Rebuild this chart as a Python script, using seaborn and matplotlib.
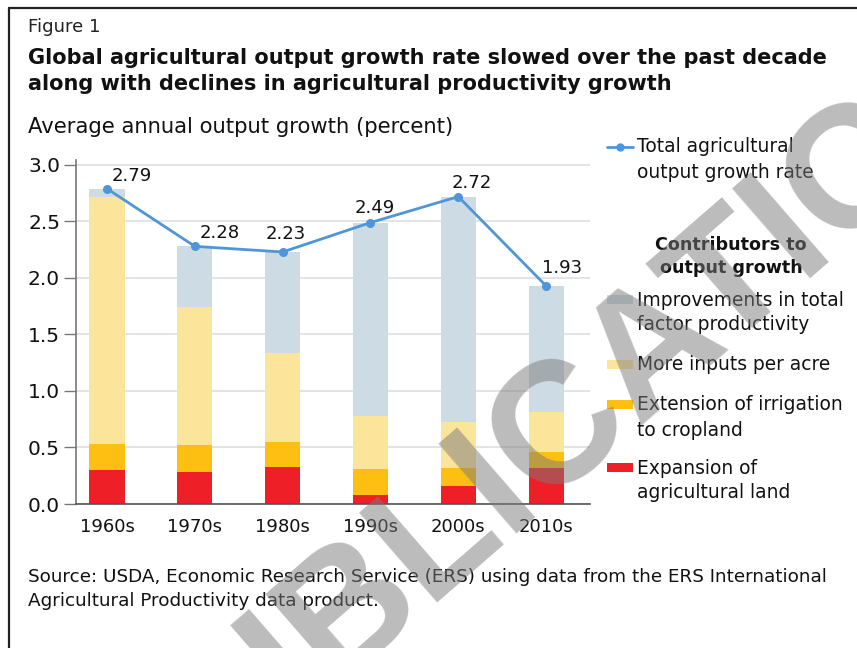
import matplotlib
matplotlib.use("Agg")
import matplotlib.pyplot as plt
from matplotlib.lines import Line2D
from matplotlib.patches import Rectangle
import seaborn as sns
import pandas as pd
import numpy as np

# ---------------- data ----------------
decades = ["1960s", "1970s", "1980s", "1990s", "2000s", "2010s"]
land_expansion = [0.30, 0.28, 0.33, 0.08, 0.16, 0.32]
irrigation = [0.23, 0.24, 0.22, 0.23, 0.16, 0.14]
inputs_per_acre = [2.19, 1.22, 0.79, 0.47, 0.41, 0.35]
tfp = [0.07, 0.54, 0.89, 1.71, 1.99, 1.12]
total_output = [2.79, 2.28, 2.23, 2.49, 2.72, 1.93]
total_labels = ["2.79", "2.28", "2.23", "2.49", "2.72", "1.93"]
yticks = [0.0, 0.5, 1.0, 1.5, 2.0, 2.5, 3.0]

series_names = [
    "Improvements in total\nfactor productivity",
    "More inputs per acre",
    "Extension of irrigation\nto cropland",
    "Expansion of\nagricultural land",
]

# ---------------- style ----------------
C_TFP = "#cddce4"
C_INPUTS = "#fbe59b"
C_IRR = "#fcbf12"
C_LAND = "#ee1f27"
C_LINE = "#4f96d8"
FONT = "DejaVu Sans"

sns.set_theme(style="white")
plt.rcParams["font.family"] = [FONT]

W, H = 857, 648
fig = plt.figure(figsize=(W / 100, H / 100), dpi=100)

def fx(px):
    return px / W

def fy(py):
    return 1 - py / H

ax_left, ax_right, ax_top, ax_bottom = 76, 590, 160, 504
ax = fig.add_axes([fx(ax_left), fy(ax_bottom), (ax_right - ax_left) / W, (ax_bottom - ax_top) / H])

df = pd.DataFrame({
    "decade": decades,
    "land": land_expansion,
    "irr": irrigation,
    "inputs": inputs_per_acre,
    "tfp": tfp,
    "total": total_output,
})
df["c1"] = df["land"]
df["c2"] = df["c1"] + df["irr"]
df["c3"] = df["c2"] + df["inputs"]
df["c4"] = df["c3"] + df["tfp"]

for col, colr in [("c4", C_TFP), ("c3", C_INPUTS), ("c2", C_IRR), ("c1", C_LAND)]:
    sns.barplot(data=df, x="decade", y=col, color=colr, saturation=1,
                width=0.4, ax=ax, linewidth=0, zorder=2)

sns.pointplot(data=df, x="decade", y="total", color=C_LINE, errorbar=None,
              markers="o", markersize=5, linewidth=2.0, ax=ax, zorder=4)

offsets = [(25, 13), (25, 13), (3, 18), (4, 15), (13, 14), (16, 18)]
for i, (v, lab) in enumerate(zip(total_output, total_labels)):
    ax.annotate(lab, (i, v), xytext=offsets[i], textcoords="offset pixels",
                ha="center", va="center", fontsize=13, color="#111111", zorder=5)

ax.set_xlim(-0.353, 5.50)
ax.set_ylim(0, 3.044)
ax.set_yticks(yticks)
ax.set_yticklabels([f"{t:.1f}" for t in yticks])
ax.set_xlabel("")
ax.set_ylabel("")
ax.grid(axis="y", color="#e2e2e2", linewidth=1.3, zorder=0)
ax.grid(axis="x", visible=False)
ax.set_axisbelow(True)
for s in ["top", "right"]:
    ax.spines[s].set_visible(False)
ax.spines["left"].set_color("#777777")
ax.spines["left"].set_linewidth(1.2)
ax.spines["bottom"].set_color("#555555")
ax.spines["bottom"].set_linewidth(1.2)
ax.tick_params(axis="y", left=True, length=8.5, width=1.0, color="#777777",
               pad=3, labelsize=14.5, labelcolor="#111111")
ax.tick_params(axis="x", bottom=False, pad=4, labelsize=13.0, labelcolor="#111111")

# ---------------- texts ----------------
fig.text(fx(28), fy(27), "Figure 1", fontsize=13.1, color="#222222", va="center", ha="left")
fig.text(fx(28), fy(58), "Global agricultural output growth rate slowed over the past decade",
         fontsize=15.0, fontweight="bold", color="#111111", va="center", ha="left")
fig.text(fx(28), fy(84), "along with declines in agricultural productivity growth",
         fontsize=15.0, fontweight="bold", color="#111111", va="center", ha="left")
fig.text(fx(28), fy(127), "Average annual output growth (percent)", fontsize=15.2,
         color="#111111", va="center", ha="left")
fig.text(fx(28), fy(577), "Source: USDA, Economic Research Service (ERS) using data from the ERS International",
         fontsize=13.2, color="#111111", va="center", ha="left")
fig.text(fx(28), fy(601), "Agricultural Productivity data product.",
         fontsize=13.2, color="#111111", va="center", ha="left")

# ---------------- legend ----------------
LEG_FS = 13.4
tx = 637
fig.add_artist(Line2D([fx(607), fx(633)], [fy(147), fy(147)], color=C_LINE, linewidth=2.0,
                      transform=fig.transFigure))
fig.add_artist(Line2D([fx(620)], [fy(147)], color=C_LINE, marker="o", markersize=5,
                      transform=fig.transFigure))
fig.text(fx(tx), fy(147), "Total agricultural", fontsize=LEG_FS, va="center", ha="left", color="#111111")
fig.text(fx(tx), fy(172), "output growth rate", fontsize=LEG_FS, va="center", ha="left", color="#111111")
fig.text(fx(731), fy(245), "Contributors to", fontsize=12.6, fontweight="bold",
         va="center", ha="center", color="#111111")
fig.text(fx(731), fy(268), "output growth", fontsize=12.6, fontweight="bold",
         va="center", ha="center", color="#111111")

legend_items = [
    (C_TFP, 299, series_names[0]),
    (C_INPUTS, 364, series_names[1]),
    (C_IRR, 404, series_names[2]),
    (C_LAND, 467, series_names[3]),
]
for colr, yc, lab in legend_items:
    fig.add_artist(Rectangle((fx(607), fy(yc + 4.5)), 26 / W, 9 / H, color=colr,
                             transform=fig.transFigure, linewidth=0))
    for k, line in enumerate(lab.split("\n")):
        fig.text(fx(tx), fy(yc + 1 + 25 * k), line, fontsize=LEG_FS, va="center",
                 ha="left", color="#111111")

# ---------------- frame ----------------
fig.add_artist(Line2D([fx(8.5), fx(8.5)], [fy(7.5), 0], color="#222222", linewidth=1.6,
                      transform=fig.transFigure))
fig.add_artist(Line2D([fx(8.5), 1], [fy(7.5), fy(7.5)], color="#222222", linewidth=1.6,
                      transform=fig.transFigure))

# ---------------- watermark ----------------
fig.text(fx(562), fy(425), "PUBLICATION", fontsize=124, fontweight="bold",
         family="Liberation Sans", color="#7a7a7a",
         alpha=0.5, rotation=41, rotation_mode="anchor", ha="center", va="center", zorder=20)

fig.savefig("out.png", dpi=100)
